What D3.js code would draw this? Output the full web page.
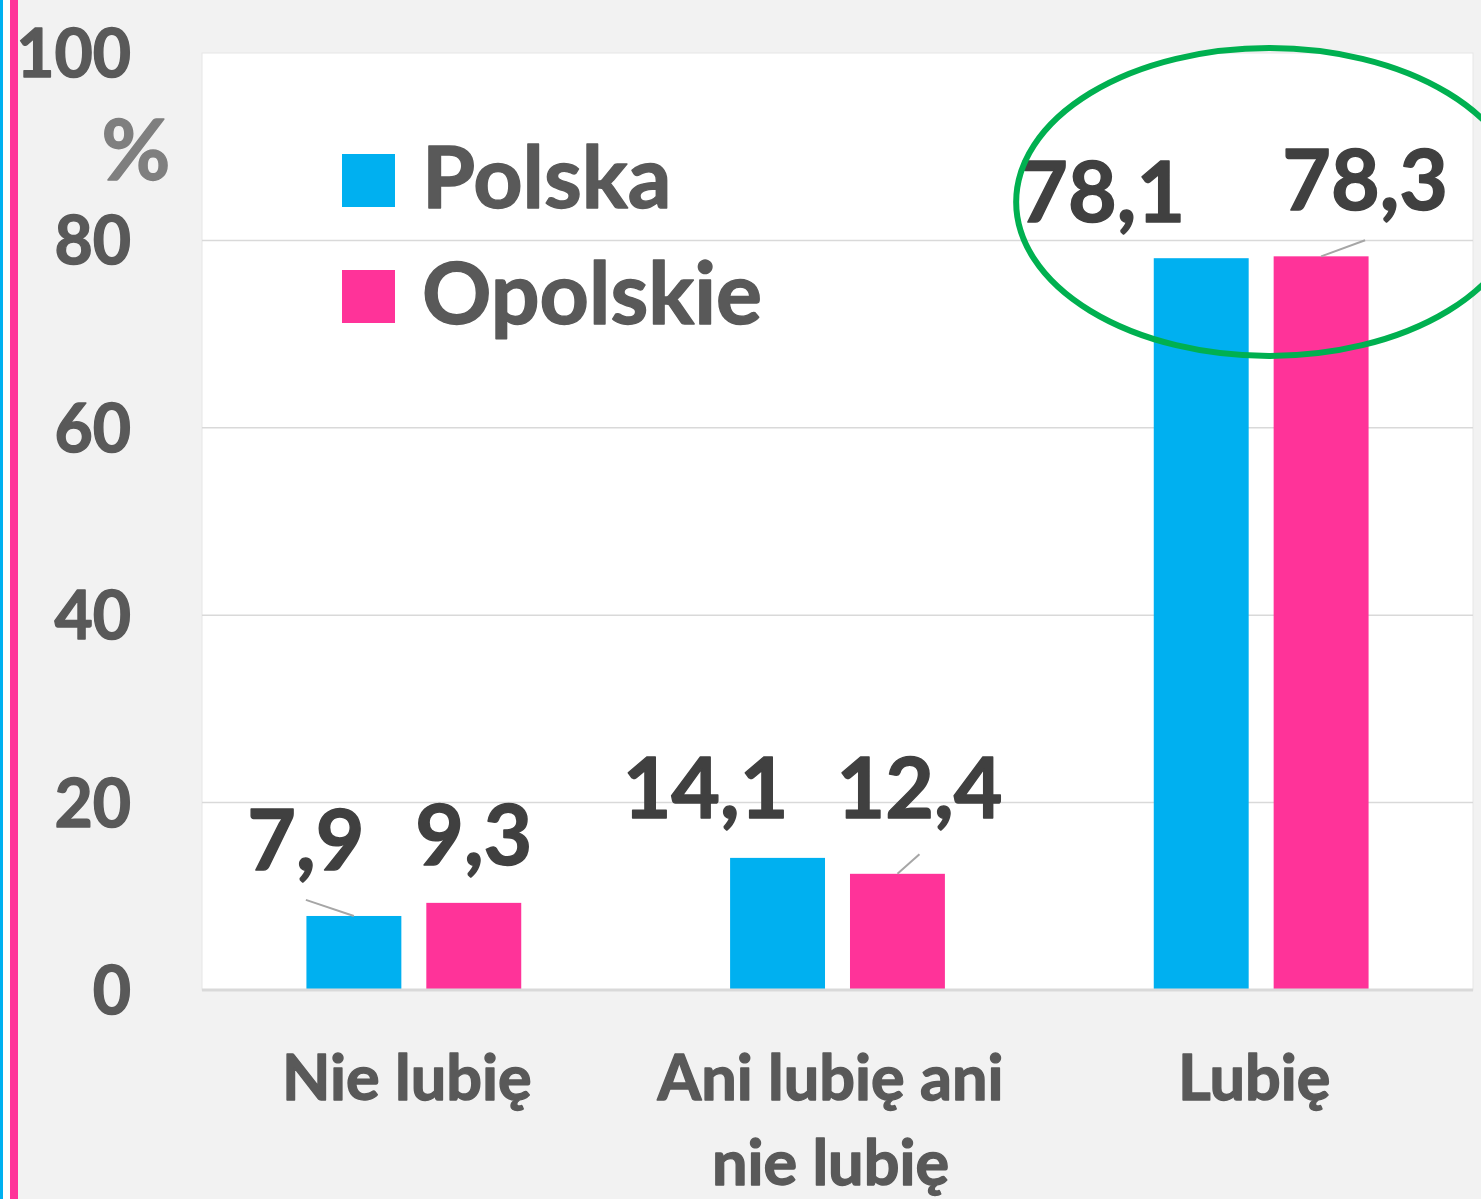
<!DOCTYPE html>
<html>
<head>
<meta charset="utf-8">
<script src="https://cdn.jsdelivr.net/npm/d3@7"></script>
<style>
  body { margin: 0; background: #f2f2f2; }
  svg { display: block; font-family: Lato, "Open Sans", sans-serif; font-weight: bold; }
  text { stroke-width: 1.4px; stroke-linejoin: round; }
</style>
</head>
<body>
<div id="chart"></div>
<script>
var categories = [["Nie lubię"], ["Ani lubię ani", "nie lubię"], ["Lubię"]];
var series = ["Polska", "Opolskie"];
var polska = [7.9, 14.1, 78.1];
var opolskie = [9.3, 12.4, 78.3];
var yTicks = [0, 20, 40, 60, 80, 100];

var colors = ["#00b0f0", "#ff3399"];

// label nudges (px) relative to bar top centre, and whether a leader line is drawn
var nudges = [
    [{dx: -48, dy: -46, lead: true},  {dx: 0,  dy: -38, lead: false}],
    [{dx: -72, dy: -40, lead: false}, {dx: 22, dy: -56, lead: true}],
    [{dx: -99, dy: -36, lead: false}, {dx: 44, dy: -46, lead: true}]
];

var w = 1481, h = 1199;
var margin = {top: 53, right: 8, bottom: 209, left: 202};

var svg = d3.select("#chart").append("svg")
    .attr("width", w)
    .attr("height", h);

svg.append("rect").attr("width", w).attr("height", h).attr("fill", "#f2f2f2");

// left edge stripes
svg.append("rect").attr("x", 0).attr("y", 0).attr("width", 3).attr("height", h).attr("fill", "#00b0f0");
svg.append("rect").attr("x", 3).attr("y", 0).attr("width", 7).attr("height", h).attr("fill", "#ffffff");
svg.append("rect").attr("x", 10).attr("y", 0).attr("width", 8).attr("height", h).attr("fill", "#ff3399");

var x0 = d3.scaleBand()
    .domain(d3.range(categories.length))
    .range([margin.left, w - margin.right])
    .padding(0);

var x1 = d3.scaleBand()
    .domain(series)
    .range([0, x0.bandwidth()])
    .paddingInner(0.2083)
    .paddingOuter(0.871);

var y = d3.scaleLinear()
    .domain([0, 100])
    .range([h - margin.bottom, margin.top]);

// plot area
svg.append("rect")
    .attr("x", margin.left)
    .attr("y", margin.top)
    .attr("width", w - margin.right - margin.left)
    .attr("height", y(0) - margin.top)
    .attr("fill", "#ffffff")
    .attr("stroke", "#e6e6e6")
    .attr("stroke-width", 1);

// gridlines
svg.append("g")
    .selectAll("line")
    .data(yTicks.filter(function(d){ return d > 0 && d < 100; }))
    .enter().append("line")
    .attr("x1", margin.left)
    .attr("x2", w - margin.right)
    .attr("y1", function(d){ return y(d); })
    .attr("y2", function(d){ return y(d); })
    .attr("stroke", "#d9d9d9")
    .attr("stroke-width", 1.5);

// y tick labels
svg.append("g")
    .selectAll("text")
    .data(yTicks)
    .enter().append("text")
    .attr("x", 131)
    .attr("y", function(d){ return y(d) + 24; })
    .attr("text-anchor", "end")
    .attr("fill", "#595959")
    .attr("stroke", "#595959")
    .style("font-size", "66px")
    .text(function(d){ return d; });

svg.append("text")
    .attr("x", 136)
    .attr("y", 180)
    .attr("text-anchor", "middle")
    .attr("fill", "#7f7f7f")
    .attr("stroke", "#7f7f7f")
    .style("font-size", "84px")
    .text("%");

var rows = categories.map(function(c, i){
    return [
        {cat: i, s: series[0], v: polska[i], n: nudges[i][0]},
        {cat: i, s: series[1], v: opolskie[i], n: nudges[i][1]}
    ];
});
var flat = [].concat.apply([], rows);

// bars
svg.append("g")
    .selectAll("rect")
    .data(flat)
    .enter().append("rect")
    .attr("x", function(d){ return x0(d.cat) + x1(d.s); })
    .attr("y", function(d){ return y(d.v); })
    .attr("width", x1.bandwidth())
    .attr("height", function(d){ return y(0) - y(d.v); })
    .attr("fill", function(d){ return colors[series.indexOf(d.s)]; });

// baseline
svg.append("line")
    .attr("x1", margin.left)
    .attr("x2", w - margin.right)
    .attr("y1", y(0))
    .attr("y2", y(0))
    .attr("stroke", "#d9d9d9")
    .attr("stroke-width", 3);

function cx(d){ return x0(d.cat) + x1(d.s) + x1.bandwidth() / 2; }

// leader lines
svg.append("g")
    .selectAll("line")
    .data(flat.filter(function(d){ return d.n.lead; }))
    .enter().append("line")
    .attr("x1", cx)
    .attr("y1", function(d){ return y(d.v); })
    .attr("x2", function(d){ return cx(d) + d.n.dx; })
    .attr("y2", function(d){ return y(d.v) + d.n.dy * 0.35; })
    .attr("stroke", "#a6a6a6")
    .attr("stroke-width", 2);

// value labels
svg.append("g")
    .selectAll("text")
    .data(flat)
    .enter().append("text")
    .attr("x", function(d){ return cx(d) + d.n.dx; })
    .attr("y", function(d){ return y(d.v) + d.n.dy; })
    .attr("text-anchor", "middle")
    .attr("fill", "#404040")
    .attr("stroke", "#404040")
    .style("font-size", "84px")
    .text(function(d){ return d3.format(".1f")(d.v).replace(".", ","); });

// category labels
var cat = svg.append("g")
    .selectAll("text")
    .data(categories)
    .enter().append("text")
    .attr("text-anchor", "middle")
    .attr("fill", "#595959")
    .attr("stroke", "#595959")
    .style("font-size", "63px")
    .attr("transform", function(d, i){ return "translate(" + (x0(i) + x0.bandwidth() / 2 - 7) + ",1100)"; });

cat.selectAll("tspan")
    .data(function(d){ return d; })
    .enter().append("tspan")
    .attr("x", 0)
    .attr("y", function(d, i){ return i * 85; })
    .text(function(d){ return d; });

// legend
var legend = svg.append("g")
    .selectAll("g")
    .data(series)
    .enter().append("g")
    .attr("transform", function(d, i){ return "translate(342," + (154 + i * 116) + ")"; });

legend.append("rect")
    .attr("width", 53)
    .attr("height", 53)
    .attr("fill", function(d, i){ return colors[i]; });

legend.append("text")
    .attr("x", 80)
    .attr("y", 54)
    .attr("fill", "#595959")
    .attr("stroke", "#595959")
    .style("font-size", "86px")
    .text(function(d){ return d; });

// highlight ellipse
svg.append("ellipse")
    .attr("cx", x0(2) + x0.bandwidth() / 2 + 8)
    .attr("cy", 202)
    .attr("rx", 253)
    .attr("ry", 154)
    .attr("fill", "none")
    .attr("stroke", "#00b050")
    .attr("stroke-width", 6);
</script>
</body>
</html>
